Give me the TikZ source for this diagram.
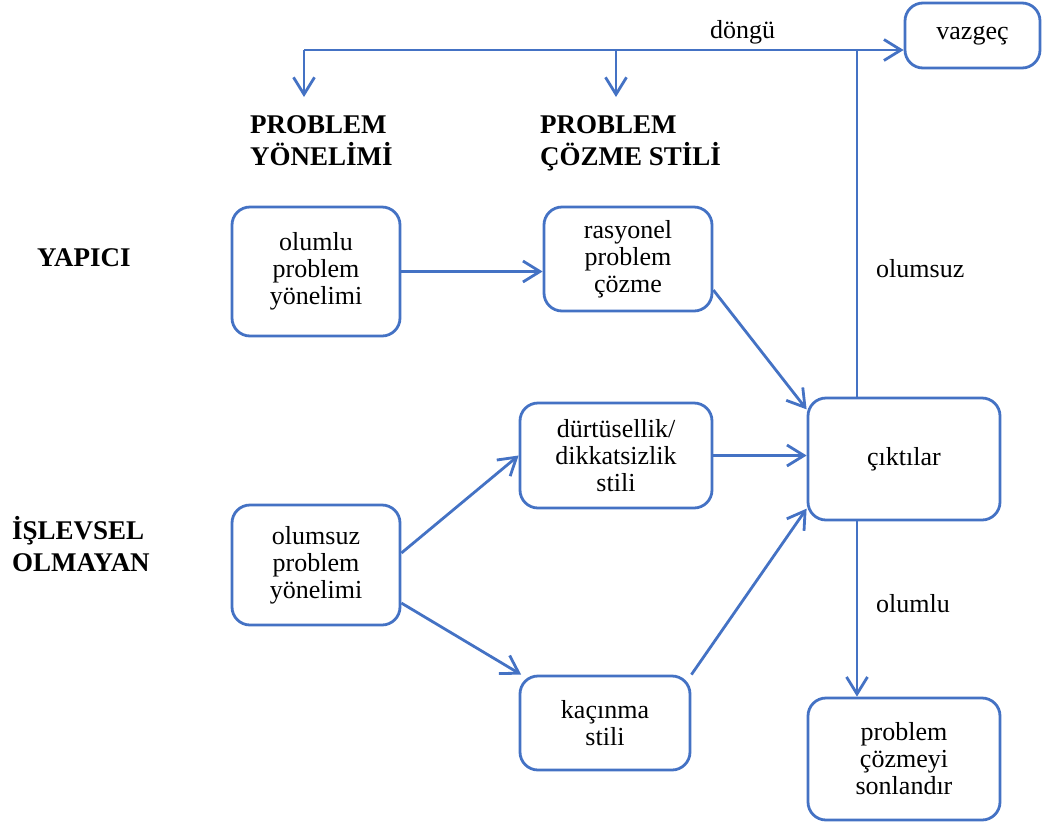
\documentclass[tikz,border=0pt]{standalone}
\usepackage{fontspec}
\setmainfont{Liberation Serif}
\usetikzlibrary{arrows.meta}
\definecolor{lineblue}{HTML}{4472C4}
\tikzset{
  box/.style={draw=lineblue, line width=2.8pt, rounded corners=18pt, align=center,
    inner sep=0pt, font=\fontsize{26}{27}\selectfont},
  conn/.style={draw=lineblue, line width=2.8pt, -{Straight Barb[length=17pt,width=21pt,line width=2.8pt]}},
  plain/.style={draw=lineblue, line width=2.8pt},
  hdr/.style={font=\fontsize{27}{32}\selectfont\bfseries, align=left, inner sep=0pt},
  lbl/.style={font=\fontsize{26}{26}\selectfont, inner sep=0pt}
}
\begin{document}
\begin{tikzpicture}[x=1pt,y=-1pt]
\useasboundingbox (0,0) rectangle (1045,823);
% boxes
\node[box, minimum width=135pt, minimum height=65pt] (vaz) at (972.5,35.5) {vazgeç};
\node[box, minimum width=168pt, minimum height=129pt] (olp) at (316,271.5) {olumlu\\problem\\yönelimi};
\node[box, minimum width=168pt, minimum height=104pt] (ras) at (628,259) {rasyonel\\problem\\çözme};
\node[box, minimum width=192pt, minimum height=105pt] (dur) at (616,455.5) {dürtüsellik/\\dikkatsizlik\\stili};
\node[box, minimum width=192pt, minimum height=122pt] (cik) at (904,459) {çıktılar};
\node[box, minimum width=168pt, minimum height=120pt] (ols) at (316,565) {olumsuz\\problem\\yönelimi};
\node[box, minimum width=170pt, minimum height=94pt] (kac) at (605,723) {kaçınma\\stili};
\node[box, minimum width=192pt, minimum height=122pt] (son) at (904,759) {problem\\çözmeyi\\sonlandır};
% headers
\node[hdr, anchor=base west] (h1) at (250,165) {PROBLEM\\YÖNELİMİ};
\node[hdr, anchor=base west] (h2) at (540,165) {PROBLEM\\ÇÖZME STİLİ};
\node[hdr, anchor=base west] (yap) at (37,266) {YAPICI};
\node[hdr, anchor=base west] (isl) at (12,571) {İŞLEVSEL\\OLMAYAN};
% labels
\node[lbl, anchor=base west] (dongu) at (710,38) {döngü};
\node[lbl, anchor=base west] (olsz) at (876,277) {olumsuz};
\node[lbl, anchor=base west] (olml) at (876,612) {olumlu};
% loop coordinates
\coordinate (tl) at (304,50);
\coordinate (tm) at (616,50);
\coordinate (tr) at (857,50);
\coordinate (d1) at (304,97);
\coordinate (d2) at (616,97);
\draw[plain] (cik.north -| tr) -- (tr);
\draw[conn] (tl) -- (vaz.west |- tl);
\draw[conn] (tl) -- (d1);
\draw[conn] (tm) -- (d2);
% connectors
\draw[conn] (cik.south -| tr) -- (son.north -| tr);
\draw[conn] (olp.east) -- (ras.west |- olp.east);
\draw[conn] (ras.-20) -- (cik.153);
\draw[conn] (dur.east) -- (cik.west |- dur.east);
\draw[conn] (ols.8) -- (dur.west);
\draw[conn] (ols.-24) -- (kac.150);
\draw[conn] (kac.north east) -- (cik.207);
\end{tikzpicture}
\end{document}
